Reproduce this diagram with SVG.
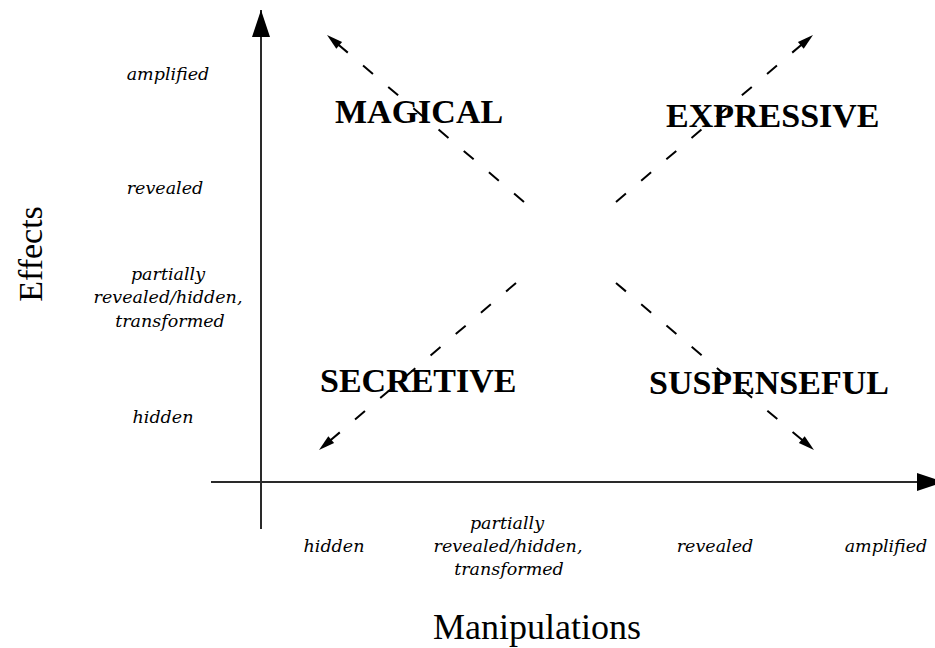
<svg xmlns="http://www.w3.org/2000/svg" width="935" height="648" viewBox="0 0 935 648">
<style>
  .bg { fill: #ffffff; }
  .axis { stroke: #2a2a2a; stroke-width: 2; fill: none; }
  .dash { stroke: #000000; stroke-width: 2; fill: none; stroke-dasharray: 13 20; }
  .tick { font-family: "DejaVu Serif", "Liberation Serif", serif; font-style: italic; font-size: 17.5px; fill: #000; text-anchor: middle; }
  .quad { font-family: "Liberation Serif", "Times New Roman", serif; font-weight: bold; font-size: 34px; fill: #000; }
  .title { font-family: "Liberation Serif", "Times New Roman", serif; font-size: 34px; fill: #000; text-anchor: middle; }
</style>
<defs>
  <marker id="axisHead" markerUnits="userSpaceOnUse" markerWidth="28" markerHeight="20" refX="27" refY="9" orient="auto" overflow="visible">
    <path d="M0,0 L27,9 L0,18 z" fill="#000"/>
  </marker>
  <marker id="dashHead" markerUnits="userSpaceOnUse" markerWidth="17" markerHeight="10" refX="16" refY="4.5" orient="auto" overflow="visible">
    <path d="M0,0 L16,4.5 L0,9 z" fill="#000"/>
  </marker>
</defs>
<rect class="bg" x="0" y="0" width="935" height="648"/>

<g id="connectors">
  <line id="y-axis" class="axis" x1="261" y1="529" x2="261" y2="10" marker-end="url(#axisHead)"/>
  <line id="x-axis" class="axis" x1="211" y1="482" x2="944" y2="482" marker-end="url(#axisHead)"/>
  <line id="to-magical" class="dash" x1="524" y1="202" x2="327" y2="35" marker-end="url(#dashHead)"/>
  <line id="to-expressive" class="dash" x1="616" y1="202" x2="813" y2="35" marker-end="url(#dashHead)"/>
  <line id="to-secretive" class="dash" x1="516" y1="283" x2="319" y2="450" marker-end="url(#dashHead)"/>
  <line id="to-suspenseful" class="dash" x1="616" y1="283" x2="814" y2="450" marker-end="url(#dashHead)"/>
</g>

<g id="magical"><text class="quad" x="335" y="123">MAGICAL</text></g>
<g id="expressive"><text class="quad" x="666" y="127">EXPRESSIVE</text></g>
<g id="secretive"><text class="quad" x="320" y="392">SECRETIVE</text></g>
<g id="suspenseful"><text class="quad" x="649" y="394">SUSPENSEFUL</text></g>

<g id="effects-label"><text class="title" transform="translate(42,254) rotate(-90)">Effects</text></g>
<g id="manipulations-label"><text class="title" x="537" y="639" style="font-size:36px">Manipulations</text></g>

<g id="effects-ticks">
  <text class="tick" x="168" y="80">amplified</text>
  <text class="tick" x="165" y="194">revealed</text>
  <text class="tick" x="168" y="280">partially</text>
  <text class="tick" x="168" y="303">revealed/hidden,</text>
  <text class="tick" x="170" y="327">transformed</text>
  <text class="tick" x="163" y="423">hidden</text>
</g>

<g id="manipulation-ticks">
  <text class="tick" x="334" y="552">hidden</text>
  <text class="tick" x="507" y="529">partially</text>
  <text class="tick" x="508" y="552">revealed/hidden,</text>
  <text class="tick" x="509" y="575">transformed</text>
  <text class="tick" x="715" y="552">revealed</text>
  <text class="tick" x="886" y="552">amplified</text>
</g>
</svg>
